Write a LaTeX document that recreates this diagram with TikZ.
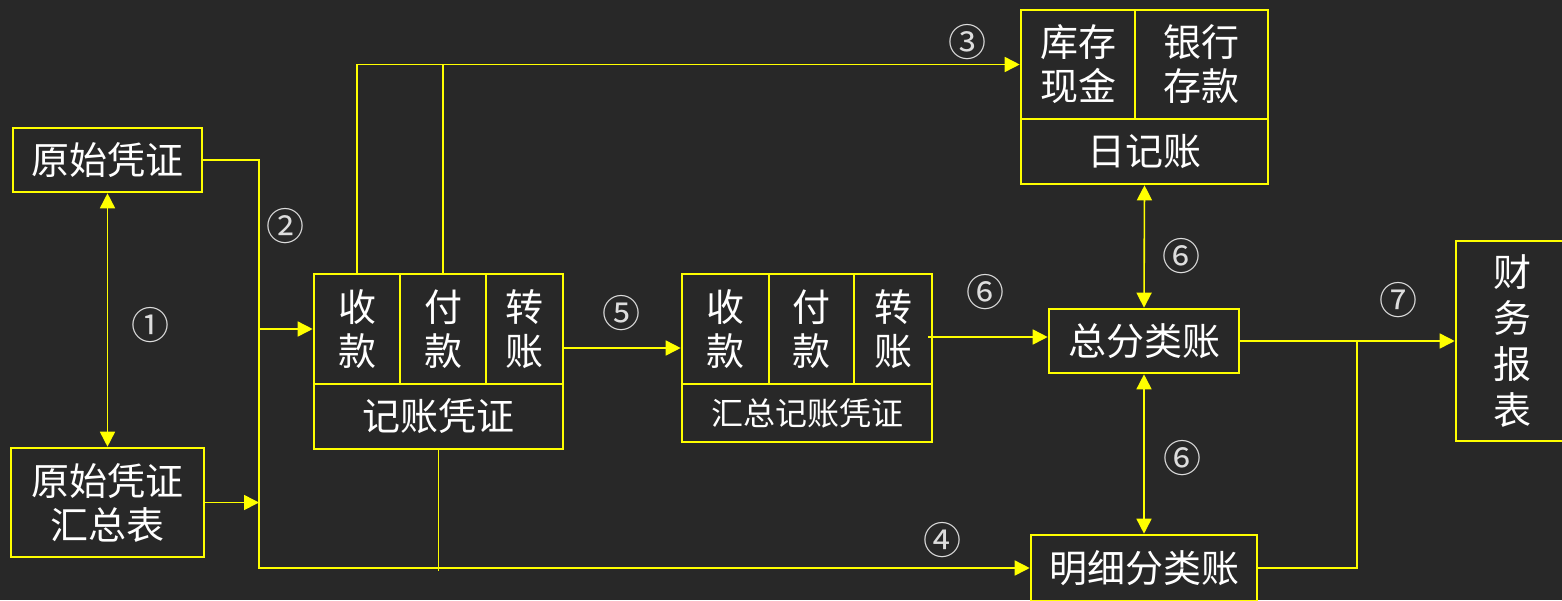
\documentclass[tikz,border=0pt]{standalone}
\usepackage{fontspec}
\newfontfamily\cjk{Noto Sans CJK SC}
\usetikzlibrary{arrows.meta,calc}
\definecolor{bg}{HTML}{282828}
\definecolor{ylw}{HTML}{FFFF00}
\definecolor{lbl}{HTML}{DDDDDD}
\tikzset{
  box/.style={draw=ylw,line width=1.3pt,inner sep=0pt,text=white,align=center,font=\cjk\fontsize{19pt}{22pt}\selectfont},
  smallbox/.style={box,font=\cjk\fontsize{16pt}{20pt}\selectfont},
  conn/.style={draw=ylw,line width=0.8pt},
  arr/.style={conn,-{Triangle[length=7.5pt,width=7.5pt]}},
  darr/.style={conn,{Triangle[length=7.5pt,width=7.5pt]}-{Triangle[length=7.5pt,width=7.5pt]}},
  num/.style={text=lbl,inner sep=0pt,font=\cjk\fontsize{19pt}{19pt}\selectfont}
}
\begin{document}
\begin{tikzpicture}[x=0.5pt,y=-0.5pt]
\fill[bg] (0,0) rectangle (1562,600);
\useasboundingbox (0,0) rectangle (1562,600);
\clip (0,0) rectangle (1562,600);
% boxes
\node[box,minimum width=94.5pt,minimum height=32pt] (A) at (107.5,160) {原始凭证};
\node[box,minimum width=96.5pt,minimum height=54.5pt] (B) at (107.5,502.5) {原始凭证\\汇总表};
% 记账凭证
\node[box,minimum width=43pt,minimum height=55pt] (C1) at (357,329) {收\\款};
\node[box,minimum width=43pt,minimum height=55pt] (C2) at (443,329) {付\\款};
\node[box,minimum width=38.5pt,minimum height=55pt] (C3) at (524.5,329) {转\\账};
\node[box,minimum width=124.5pt,minimum height=32.5pt] (Cb) at (438.5,416.5) {记账凭证};
% 汇总记账凭证
\node[box,minimum width=43.5pt,minimum height=55pt] (D1) at (725.5,329) {收\\款};
\node[box,minimum width=42.5pt,minimum height=55pt] (D2) at (811.5,329) {付\\款};
\node[box,minimum width=39pt,minimum height=55pt] (D3) at (893,329) {转\\账};
\node[smallbox,minimum width=125pt,minimum height=29pt] (Db) at (807,413) {汇总记账凭证};
% 日记账
\node[box,minimum width=57pt,minimum height=54.5pt] (E1) at (1078,64.5) {库存\\现金};
\node[box,minimum width=66.5pt,minimum height=54.5pt] (E2) at (1201.5,64.5) {银行\\存款};
\node[box,minimum width=123.5pt,minimum height=32.5pt] (Eb) at (1144.5,151.5) {日记账};
% ledgers
\node[box,minimum width=95pt,minimum height=32pt] (F) at (1144,341) {总分类账};
\node[box,minimum width=113pt,minimum height=33pt] (G) at (1144,568) {明细分类账};
\node[box,minimum width=56pt,minimum height=100pt,font=\cjk\fontsize{19pt}{23pt}\selectfont] (H) at (1512,341) {财\\务\\报\\表};
% junction coordinates
\coordinate (j2) at (259,160);
\coordinate (jb) at (259,568);
\coordinate (y5) at (0,348);
\coordinate (y6a) at (928,337);
\coordinate (cb4) at (440,571);
\coordinate (j7) at (1357,341);
% connectors
\draw[darr] (A.south) -- (B.north);
\draw[arr] (A.east) -- (j2) |- (C1.west);
\draw[arr] (j2) -- (jb) -- (G.west);
\draw[arr] (B.east) -- (B.east -| j2);
\draw[conn] (Cb.south) -- (Cb.south |- cb4);
\draw[arr] (C1.north) |- (E1.west);
\draw[conn] (C2.north) -- (C2.north |- E1.west);
\draw[arr] (C3.east |- y5) -- (D1.west |- y5);
\draw[arr] (y6a) -- (F.west |- y6a);
\draw[darr] (Eb.south) -- (F.north);
\draw[darr] (F.south) -- (G.north);
\draw[arr] (F.east) -- (H.west);
\draw[conn] (G.east) -| (j7);
% labels
\node[num] (n1) at (150,325) {①};
\node[num] (n2) at (285,226) {②};
\node[num] (n3) at (967,42) {③};
\node[num] (n4) at (942,540) {④};
\node[num] (n5) at (621,313) {⑤};
\node[num] (n6a) at (985,292) {⑥};
\node[num] (n6b) at (1181,256) {⑥};
\node[num] (n6c) at (1182,458) {⑥};
\node[num] (n7) at (1398,300) {⑦};
\end{tikzpicture}
\end{document}
